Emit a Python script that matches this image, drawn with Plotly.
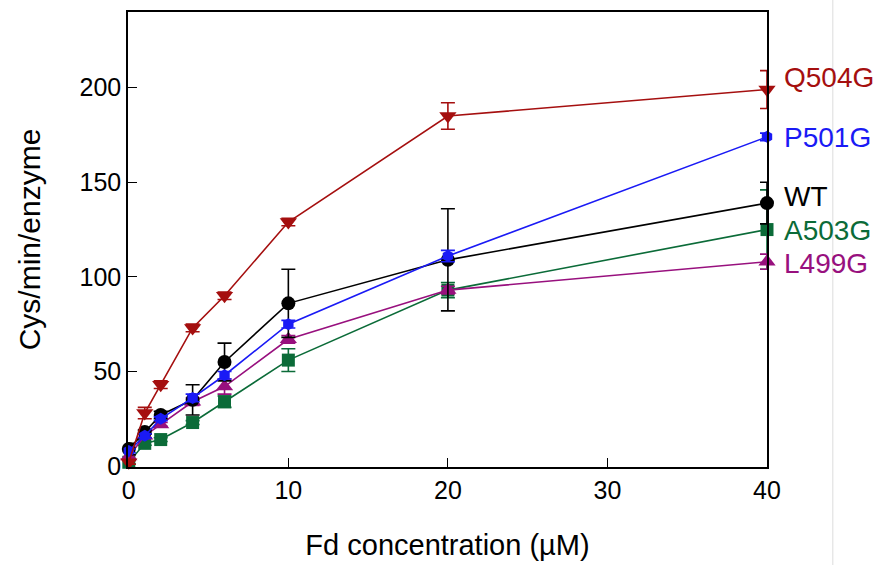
import plotly.graph_objects as go

x_fd = [0, 1, 2, 4, 6, 10, 20, 40]

series_names = ["Q504G", "P501G", "WT", "A503G", "L499G"]
q504g = [2, 28, 43, 73, 90, 129, 185, 199]
q504g_err = [1, 3, 2, 2, 2, 2, 7, 10]
p501g = [8, 16, 25, 36, 48, 75, 111, 174]
p501g_err = [1, 1, 1, 2, 2, 2, 3, 2]
wt = [9, 18, 27, 35, 55, 86, 109, 139]
wt_err = [3, 1, 2, 8, 10, 18, 27, 11]
a503g = [2, 12, 14, 23, 34, 56, 93, 125]
a503g_err = [1, 1, 1, 1, 3, 6, 4, 21]
l499g = [5, 16, 22, 34, 42, 67, 93, 108]
l499g_err = [1, 1, 1, 2, 4, 2, 2, 4]

colors = ["#A50F0F", "#1A1AF5", "#000000", "#0B6B38", "#98107E"]
symbols = ["triangle-down", "hexagon", "circle", "square", "triangle-up"]
marker_sizes = [15, 12, 14, 13, 15]
values = [q504g, p501g, wt, a503g, l499g]
errors = [q504g_err, p501g_err, wt_err, a503g_err, l499g_err]
label_shift = [12, -1, 7, -1, -2]  # pixel nudges of the end labels

FONT = "Liberation Sans, Arial"

fig = go.Figure()
order = [3, 4, 2, 1, 0]
for i in order:
    fig.add_trace(go.Scatter(
        x=x_fd, y=values[i], name=series_names[i], mode="lines+markers",
        line=dict(color=colors[i], width=1.6),
        marker=dict(symbol=symbols[i], size=marker_sizes[i], color=colors[i]),
        error_y=dict(type="data", array=errors[i], visible=True,
                     color=colors[i], thickness=1.6, width=7),
        cliponaxis=False, showlegend=False,
    ))

for i in range(5):
    fig.add_annotation(x=40, y=values[i][-1], text=series_names[i],
                       xanchor="left", yanchor="middle", xshift=15,
                       yshift=label_shift[i], showarrow=False,
                       font=dict(family=FONT, size=28, color=colors[i]))

fig.add_shape(type="line", xref="paper", yref="paper", x0=1.103, x1=1.103,
              y0=-0.25, y1=1.05, line=dict(color="#DDDDDD", width=1))

axis_common = dict(showline=True, linecolor="#000000", linewidth=1.5,
                   mirror=True, ticks="inside", ticklen=9, tickwidth=1.3,
                   tickcolor="#000000", showgrid=False, zeroline=False,
                   automargin=False,
                   tickfont=dict(family=FONT, size=25, color="#000000"))

fig.update_layout(
    width=884, height=565,
    margin=dict(l=128, r=117, t=12, b=98),
    plot_bgcolor="#FFFFFF", paper_bgcolor="#FFFFFF",
    xaxis=dict(range=[-0.05, 40], tickvals=[0, 10, 20, 30, 40],
               title=dict(text="Fd concentration (µM)", standoff=32,
                          font=dict(family=FONT, size=29, color="#000000")),
               **axis_common),
    yaxis=dict(range=[-0.5, 240], tickvals=[0, 50, 100, 150, 200],
               title=dict(text="Cys/min/enzyme", standoff=30,
                          font=dict(family=FONT, size=30, color="#000000")),
               **axis_common),
)

fig.write_html("out.html")
